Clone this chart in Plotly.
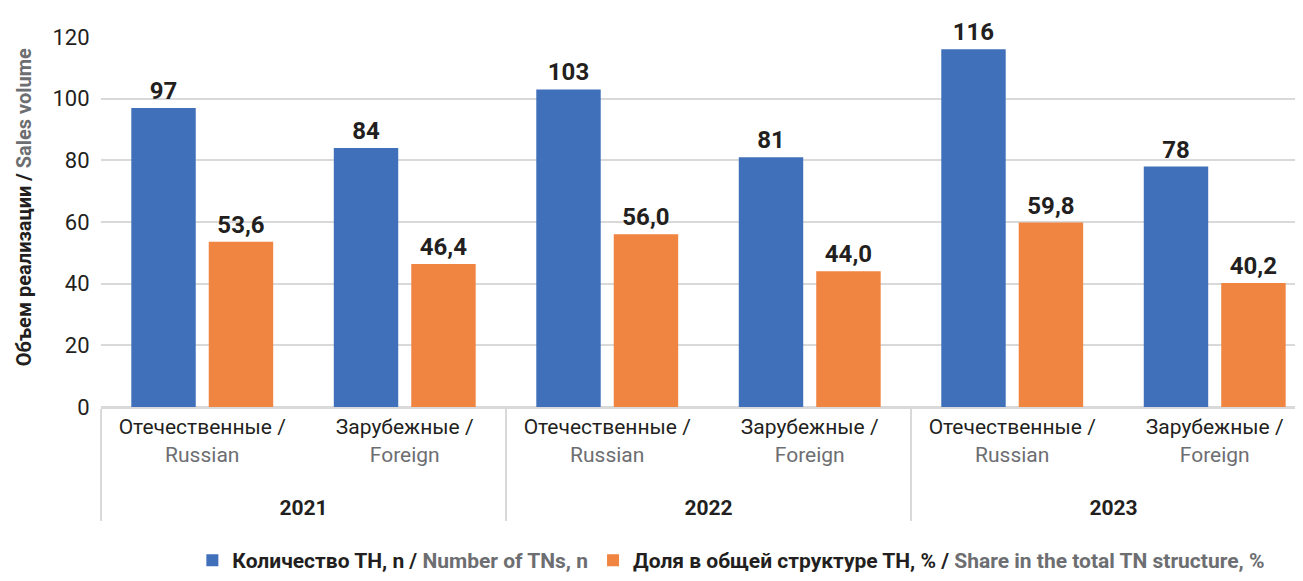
import plotly.graph_objects as go

years = ["2021", "2021", "2022", "2022", "2023", "2023"]
cats_ru = ["Отечественные /", "Зарубежные /"] * 3
cats_en = ["Russian", "Foreign"] * 3
count_tn = [97, 84, 103, 81, 116, 78]
share_tn = [53.6, 46.4, 56.0, 44.0, 59.8, 40.2]
y_ticks = [0, 20, 40, 60, 80, 100, 120]

FONT = "Roboto, Arial, sans-serif"
GRAY = "#6d6e71"
DARK = "#231f20"

year_lbl = [f"<b>{y}</b>" for y in years]
cat_lbl = [f"{r}<br><span style='color:{GRAY}'>{e}</span><br> " for r, e in zip(cats_ru, cats_en)]
x = [year_lbl, cat_lbl]

fig = go.Figure()
fig.add_trace(go.Bar(
    x=x, y=count_tn,
    name=f"<b>Количество ТН, n /</b> <span style='color:{GRAY}'><b>Number of TNs, n</b></span>",
    marker=dict(color="#4170bb", line=dict(width=0)),
    text=[f"{v:d}" for v in count_tn],
    textposition="outside",
    textfont=dict(size=24, color=DARK, family=FONT, weight="bold"),
    cliponaxis=False,
))
fig.add_trace(go.Bar(
    x=x, y=share_tn,
    name=f"<b>Доля в общей структуре ТН, % /</b> <span style='color:{GRAY}'><b>Share in the total TN structure, %</b></span>",
    marker=dict(color="#f08441", line=dict(width=0)),
    text=[f"{v:.1f}".replace(".", ",") for v in share_tn],
    textposition="outside",
    textfont=dict(size=24, color=DARK, family=FONT, weight="bold"),
    cliponaxis=False,
))

# page body has an 8px default margin: figure is sized/offset to compensate
fig.update_layout(
    width=1295, height=573,
    margin=dict(l=93, r=0, t=29, b=174, autoexpand=False),
    paper_bgcolor="white", plot_bgcolor="white",
    font=dict(family=FONT, color=DARK, size=21),
    barmode="group",
    bargap=0.235, bargroupgap=0.168,
    showlegend=True,
    legend=dict(orientation="h", x=0.076, xanchor="left", y=-0.415, yanchor="middle",
                font=dict(size=21, color=DARK), itemwidth=30, traceorder="normal"),
    xaxis=dict(
        type="multicategory",
        range=[-0.5, 5.436],
        automargin=False,
        showgrid=False,
        showline=True, linecolor="#d9d9d9", linewidth=2,
        showdividers=True, dividercolor="#d9d9d9", dividerwidth=2,
        tickfont=dict(size=21, color=DARK),
        ticks="",
    ),
    yaxis=dict(
        range=[0, 120],
        automargin=False,
        tickvals=y_ticks,
        showgrid=True, gridcolor="#d9d9d9", gridwidth=2,
        zeroline=True, zerolinecolor="#d9d9d9", zerolinewidth=2,
        showline=False,
        ticks="outside", ticklen=6, tickcolor="white",
        tickfont=dict(size=22, color=DARK),
    ),
    annotations=[dict(
        text=f"<b>Объем реализации / </b><span style='color:{GRAY}'><b>Sales volume</b></span>",
        xref="paper", yref="paper", x=-0.064, y=0.54,
        xanchor="center", yanchor="middle", textangle=-90, showarrow=False,
        font=dict(size=20, color=DARK, family=FONT),
    )],
)

fig.write_html("out.html")
